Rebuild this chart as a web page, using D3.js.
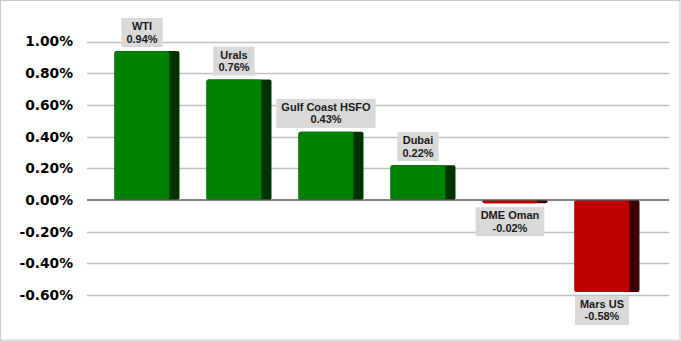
<!DOCTYPE html>
<html><head><meta charset="utf-8">
<script src="https://cdn.jsdelivr.net/npm/d3@7"></script>
<style>body{margin:0;background:#fff}</style>
</head><body>
<script>
const categories = ["WTI","Urals","Gulf Coast HSFO","Dubai","DME Oman","Mars US"];
const values = [0.0094,0.0076,0.0043,0.0022,-0.0002,-0.0058];
const tickValues = [-0.006,-0.004,-0.002,0,0.002,0.004,0.006,0.008,0.010];

const W=681,H=341;
const svg=d3.select("body").append("svg").attr("width",W).attr("height",H);
svg.append("rect").attr("x",0.5).attr("y",0.5).attr("width",W-1.5).attr("height",H-1.5)
  .attr("fill","#fff").attr("stroke","#c8c8c8").attr("stroke-width",1);

const y=d3.scaleLinear().domain([-0.007,0.010]).range([311,41.5]);
const x=d3.scaleBand().domain(categories).range([101,653]).paddingInner(0.293).paddingOuter(0.1465);
const plotL=87, plotR=669;
const fmt0=d3.format(".2%");
const fmt=v=>fmt0(v).replace("\u2212","-");

// gridlines
svg.append("g").selectAll("line").data(tickValues.filter(t=>t!==0)).join("line")
  .attr("x1",plotL).attr("x2",plotR).attr("y1",d=>Math.round(y(d))+0.5).attr("y2",d=>Math.round(y(d))+0.5)
  .attr("stroke","#c0c0c0").attr("stroke-width",1.5);

// y axis labels
const yAxis=d3.axisLeft(y).tickValues(tickValues).tickFormat(fmt).tickSize(0).tickPadding(0);
const ga=svg.append("g").attr("transform",`translate(73,0)`).call(yAxis);
ga.select(".domain").remove();
ga.selectAll("text").attr("font-family","DejaVu Sans").attr("font-weight","bold")
  .attr("font-size","13.8px").attr("fill","#000");

const front=55, side=10;
const bars=svg.append("g").selectAll("g").data(categories).join("g");
bars.append("rect")
  .attr("x",d=>x(d)).attr("width",front+side)
  .attr("y",(d,i)=>Math.min(y(values[i]),y(0)))
  .attr("height",(d,i)=>Math.abs(y(values[i])-y(0)))
  .attr("rx",2)
  .attr("fill",(d,i)=>values[i]>=0?"#003300":"#3b0000");
bars.append("rect")
  .attr("x",d=>x(d)).attr("width",front)
  .attr("y",(d,i)=>Math.min(y(values[i]),y(0)))
  .attr("height",(d,i)=>Math.abs(y(values[i])-y(0)))
  .attr("rx",2)
  .attr("fill",(d,i)=>values[i]>=0?"#008000":"#c00000");

// zero line
svg.append("line").attr("x1",plotL).attr("x2",plotR).attr("y1",y(0)).attr("y2",y(0))
  .attr("stroke","#595959").attr("stroke-width",1.5);

// labels
const labs=svg.append("g").selectAll("g").data(categories).join("g");
labs.each(function(d,i){
  const g=d3.select(this);
  const cx=x(d)+front/2;
  const v=values[i];
  const t1=g.append("text").text(d).attr("x",cx).attr("text-anchor","middle")
    .attr("font-family","Liberation Sans, Arial").attr("font-weight","bold").attr("font-size","11px").attr("fill","#1a1a1a");
  const t2=g.append("text").text(fmt(v)).attr("x",cx).attr("text-anchor","middle")
    .attr("font-family","Liberation Sans, Arial").attr("font-weight","bold").attr("font-size","11px").attr("fill","#1a1a1a");
  const w=Math.max(t1.node().getComputedTextLength(),t2.node().getComputedTextLength())+10;
  const h=29;
  const top = v>=0 ? y(v)-4-h : y(v)+4;
  g.insert("rect","text").attr("x",cx-w/2).attr("y",top).attr("width",w).attr("height",h).attr("fill","#d9d9d9");
  t1.attr("y",top+12);
  t2.attr("y",top+24.5);
});
</script>
</body></html>
